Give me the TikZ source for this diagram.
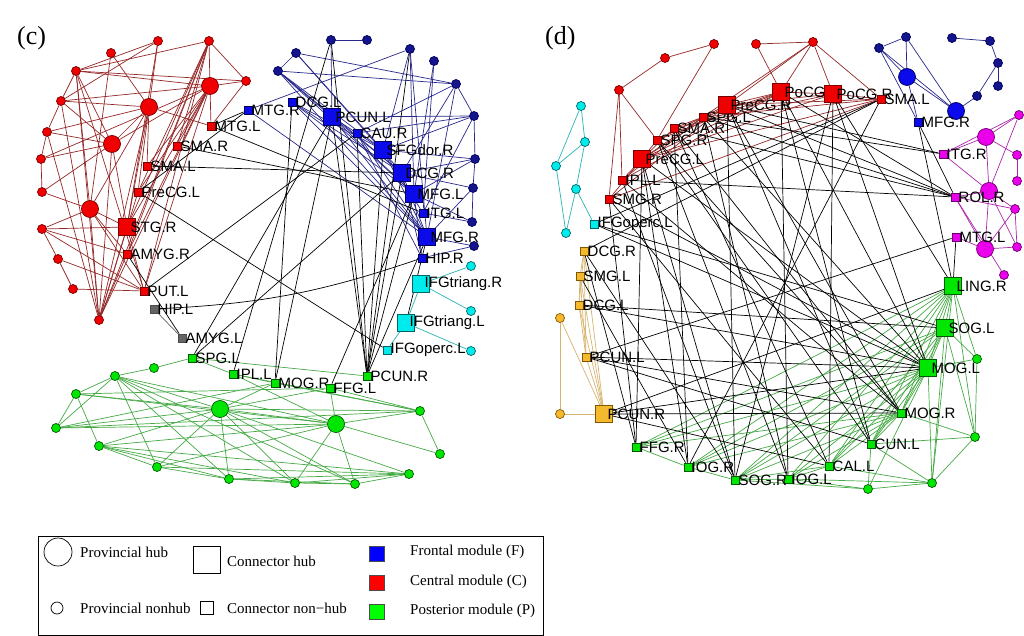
\documentclass[tikz,border=0pt]{standalone}
\usepackage{fontspec}
\setmainfont{Liberation Serif}
\newfontfamily\labfont{Liberation Sans}
\usetikzlibrary{backgrounds}
\definecolor{redN}{RGB}{240,0,0}
\definecolor{redB}{RGB}{120,0,0}
\definecolor{redE}{RGB}{150,40,40}
\definecolor{blueN}{RGB}{10,10,235}
\definecolor{navyN}{RGB}{20,20,140}
\definecolor{blueB}{RGB}{0,0,90}
\definecolor{blueE}{RGB}{40,40,140}
\definecolor{greenN}{RGB}{0,230,0}
\definecolor{greenB}{RGB}{0,90,0}
\definecolor{greenE}{RGB}{70,170,70}
\definecolor{cyanN}{RGB}{0,235,235}
\definecolor{cyanB}{RGB}{0,100,100}
\definecolor{cyanE}{RGB}{40,180,180}
\definecolor{orangeN}{RGB}{245,185,45}
\definecolor{orangeB}{RGB}{130,85,0}
\definecolor{orangeE}{RGB}{215,180,110}
\definecolor{magN}{RGB}{235,0,235}
\definecolor{magB}{RGB}{110,0,110}
\definecolor{magE}{RGB}{170,40,170}
\definecolor{grayN}{RGB}{100,100,100}
\newcommand\sqn[5]{\node[#1] (#2) at (#3,#4) {}; \node[lab] (#2t) at ([xshift=3.5pt]#2.center) {#5};}
\begin{document}
\begin{tikzpicture}[x=1pt,y=-1pt,
  nd/.style={inner sep=0pt,line width=0.7pt},
  rc/.style={nd,circle,minimum size=9pt,fill=redN,draw=redB},
  rh/.style={rc,minimum size=17pt},
  rs/.style={nd,rectangle,minimum size=8pt,fill=redN,draw=redB},
  rS/.style={rs,minimum size=17pt},
  bc/.style={nd,circle,minimum size=9pt,fill=navyN,draw=blueB},
  bh/.style={bc,minimum size=17pt,fill=blueN},
  bs/.style={nd,rectangle,minimum size=8pt,fill=blueN,draw=blueB},
  bS/.style={bs,minimum size=17pt},
  gc/.style={nd,circle,minimum size=9pt,fill=greenN,draw=greenB},
  gh/.style={gc,minimum size=17pt},
  gs/.style={nd,rectangle,minimum size=8pt,fill=greenN,draw=greenB},
  gS/.style={gs,minimum size=17pt},
  cc/.style={nd,circle,minimum size=9pt,fill=cyanN,draw=cyanB},
  cs/.style={nd,rectangle,minimum size=8pt,fill=cyanN,draw=cyanB},
  cS/.style={cs,minimum size=17pt},
  oc/.style={nd,circle,minimum size=9pt,fill=orangeN,draw=orangeB},
  os/.style={nd,rectangle,minimum size=8pt,fill=orangeN,draw=orangeB},
  oS/.style={os,minimum size=17pt},
  mc/.style={nd,circle,minimum size=9pt,fill=magN,draw=magB},
  mh/.style={mc,minimum size=17pt},
  ms/.style={nd,rectangle,minimum size=8pt,fill=magN,draw=magB},
  ks/.style={nd,rectangle,minimum size=8pt,fill=grayN,draw=black!70},
  lab/.style={anchor=west,inner sep=0pt,font=\labfont\fontsize{15}{17}\selectfont},
  ed/.style={line width=0.7pt},
  re/.style={ed,draw=redE}, be/.style={ed,draw=blueE}, ge/.style={ed,draw=greenE},
  ce/.style={ed,draw=cyanE}, oe/.style={ed,draw=orangeE}, me/.style={ed,draw=magE},
  ke/.style={ed,draw=black}, ye/.style={ed,draw=grayN},
  legt/.style={anchor=west,inner sep=0pt,font=\fontsize{15}{17}\selectfont}]
\useasboundingbox (0,0) rectangle (1024,636);
\node[anchor=west,inner sep=0pt,font=\fontsize{26}{28}\selectfont] (tc) at (17,38) {(c)};
\node[anchor=west,inner sep=0pt,font=\fontsize{26}{28}\selectfont] (td) at (545,38) {(d)};
% ---------------- panel c nodes
\foreach \n/\x/\y in {r1/158/41,r2/209/41,r3/111/53,r4/76/71,r5/246/81,r6/61/101,r7/47/132,r8/41/159,r9/42/192,r10/42/229,r11/58/259,r12/73/289,r13/99/320}
  \node[rc] (\n) at (\x,\y) {};
\foreach \n/\x/\y in {rh1/210/86,rh2/149/107,rh3/112/144,rh4/90/209}
  \node[rh] (\n) at (\x,\y) {};
\foreach \n/\x/\y in {b1/331/40,b2/367/40,b3/296/53,b4/410/49,b5/278/71,b6/434/61,b7/456/84,b8/474/116,b9/475/159,b10/473/188,b11/472/222,b12/474/246}
  \node[bc] (\n) at (\x,\y) {};
\foreach \n/\x/\y in {cy1/471/266,cy2/471/311,cy3/471/351}
  \node[cc] (\n) at (\x,\y) {};
\foreach \n/\x/\y in {gc1/154/368,gc2/115/376,gc3/76/394,gc4/56/428,gc5/99/446,gc6/157/467,gc7/229/479,gc8/295/483,gc9/355/484,gc10/409/474,gc11/440/454,gc12/420/411}
  \node[gc] (\n) at (\x,\y) {};
\node[gh] (gh1) at (220,409) {};
\node[gh] (gh2) at (336,424) {};
\sqn{rs}{rMTGL}{211}{126}{MTG.L}
\sqn{rs}{rSMAR}{177}{146}{SMA.R}
\sqn{rs}{rSMAL}{147}{166}{SMA.L}
\sqn{rs}{rPreCGL}{138}{192}{PreCG.L}
\sqn{rS}{rSTGR}{127}{227}{STG.R}
\sqn{rs}{rAMYGR}{127}{254}{AMYG.R}
\sqn{rs}{rPUTL}{144}{291}{PUT.L}
\sqn{ks}{gHIPL}{154}{309}{HIP.L}
\sqn{ks}{gAMYGL}{182}{338}{AMYG.L}
\sqn{bs}{bMTGR}{248}{110}{MTG.R}
\sqn{bs}{bDCGL}{292}{102}{DCG.L}
\sqn{bS}{bPCUNL}{332}{117}{PCUN.L}
\sqn{bs}{bCAUR}{357}{133}{CAU.R}
\sqn{bS}{bSFGdorR}{383}{150}{SFGdor.R}
\sqn{bS}{bDCGR}{402}{173}{DCG.R}
\sqn{bS}{bMFGL}{414}{194}{MFG.L}
\sqn{bs}{bITGL}{423}{213}{ITG.L}
\sqn{bS}{bMFGR}{427}{237}{MFG.R}
\sqn{bs}{bHIPR}{422}{258}{HIP.R}
\sqn{cS}{cIFGtR}{421}{284}{IFGtriang.R}
\sqn{cS}{cIFGtL}{406}{323}{IFGtriang.L}
\sqn{cs}{cIFGoL}{387}{350}{IFGoperc.L}
\sqn{gs}{gSPGL}{192}{358}{SPG.L}
\sqn{gs}{gIPLL}{233}{374}{IPL.L}
\sqn{gs}{gMOGR}{275}{383}{MOG.R}
\sqn{gs}{gFFGL}{330}{388}{FFG.L}
\sqn{gs}{gPCUNR}{367}{376}{PCUN.R}
% ---------------- panel d nodes
\foreach \n/\x/\y in {dr1/619/90,dr2/665/58,dr3/714/44,dr4/756/44,dr5/813/42}
  \node[rc] (\n) at (\x,\y) {};
\foreach \n/\x/\y in {dc1/581/106,dc2/585/142,dc3/556/166,dc4/576/189,dc5/566/233}
  \node[cc] (\n) at (\x,\y) {};
\foreach \n/\x/\y in {do1/560/318,do2/560/414}
  \node[oc] (\n) at (\x,\y) {};
\foreach \n/\x/\y in {db1/906/37,db2/879/48,db3/952/38,db4/990/41,db5/998/63,db6/998/86,db7/977/96}
  \node[bc] (\n) at (\x,\y) {};
\node[bh] (dbh1) at (907,77) {};
\node[bh] (dbh2) at (956,111) {};
\foreach \n/\x/\y in {dm1/1019/115,dm2/1017/155,dm3/1017/181,dm4/1015/209,dm5/1017/247,dm6/1004/275}
  \node[mc] (\n) at (\x,\y) {};
\foreach \n/\x/\y in {dmh1/986/137,dmh2/989/191,dmh3/985/249}
  \node[mh] (\n) at (\x,\y) {};
\foreach \n/\x/\y in {dg1/977/359,dg2/975/437,dg3/932/483,dg4/868/489}
  \node[gc] (\n) at (\x,\y) {};
\sqn{rS}{dPreCGL}{642}{159}{PreCG.L}
\sqn{rs}{dIPLL}{622}{180}{IPL.L}
\sqn{rs}{dSPGR}{657}{140}{SPG.R}
\sqn{rs}{dSMAR}{674}{128}{SMA.R}
\sqn{rs}{dSPGL}{703}{117}{SPG.L}
\sqn{rS}{dPreCGR}{727}{105}{PreCG.R}
\sqn{rS}{dPoCG}{781}{92}{PoCG}
\sqn{rS}{dPoCGR}{833}{94}{PoCG.R}
\sqn{rs}{dSMAL}{881}{99}{SMA.L}
\sqn{rs}{dSMGR}{609}{199}{SMG.R}
\sqn{cs}{dIFGoL}{594}{224}{IFGoperc.L}
\sqn{os}{dDCGR}{584}{251}{DCG.R}
\sqn{os}{dSMGL}{580}{276}{SMG.L}
\sqn{os}{dDCGL}{579}{305}{DCG.L}
\sqn{os}{dPCUNL}{586}{357}{PCUN.L}
\sqn{oS}{dPCUNR}{604}{414}{PCUN.R}
\sqn{bs}{dMFGR}{918}{122}{MFG.R}
\sqn{ms}{dITGR}{943}{154}{ITG.R}
\sqn{ms}{dROLR}{955}{197}{ROL.R}
\sqn{ms}{dMTGL}{956}{237}{MTG.L}
\sqn{gS}{dLINGR}{953}{286}{LING.R}
\sqn{gS}{dSOGL}{945}{328}{SOG.L}
\sqn{gS}{dMOGL}{928}{368}{MOG.L}
\sqn{gs}{dMOGR}{901}{413}{MOG.R}
\sqn{gs}{dCUNL}{871}{444}{CUN.L}
\sqn{gs}{dCALL}{829}{466}{CAL.L}
\sqn{gs}{dIOGL}{788}{479}{IOG.L}
\sqn{gs}{dFFGR}{636}{447}{FFG.R}
\sqn{gs}{dIOGR}{688}{467}{IOG.R}
\sqn{gs}{dSOGR}{735}{480}{SOG.R}
% ---------------- edges
\begin{scope}[on background layer]
\fill[white] (0,0) rectangle (1024,636);
\foreach \a/\b in {r1/rh2,r1/r6,r1/r4,r2/rh1,r2/r5,r2/r4,r2/rSMAR,r2/rPreCGL,r2/rSTGR,r2/rPUTL,r2/rAMYGR,r3/rh2,r3/rh4,r4/r6,r4/rh1,r4/r5,r4/rh3,r4/r13,r4/rPUTL,r5/rh1,r5/rMTGL,r6/r7,r6/rh2,r6/rh1,r6/r13,r6/rh3,r7/r8,r7/rh2,r7/rh3,r7/r13,r8/r9,r8/rh3,r8/rh1,r9/rh4,r9/rh3,r10/rh4,r10/r11,r10/rSTGR,r10/rAMYGR,r10/rPUTL,r11/r12,r11/rPUTL,r12/rPUTL,r13/rh3,r13/rh2,r13/rh1,r13/r2,r13/rSTGR,r13/rAMYGR,r13/rPreCGL,rh1/rMTGL,rh1/rSMAR,rh1/rSMAL,rh1/rPreCGL,rh1/rSTGR,rh1/rAMYGR,rh1/rPUTL,rh2/rSTGR,rh2/rPreCGL,rh2/rSMAL,rh2/rMTGL,rh2/rh3,rh3/rh1,rh3/rSTGR,rh4/rh2,rh4/r4,rh4/rSTGR,rh4/rAMYGR,rh4/rPUTL,rh4/r13,rSTGR/rPUTL,r1/rSTGR}
  \draw[re] (\a) -- (\b);
\foreach \a/\b in {b1/b2,b1/bPCUNL,b3/b5,b3/b7,b3/bDCGR,b3/bSFGdorR,b5/b7,b5/bPCUNL,b5/bSFGdorR,b5/bDCGR,b5/bMFGL,b5/bMFGR,bMTGR/b4,b4/bSFGdorR,b4/bMFGL,b4/bMFGR,b6/bMFGL,b6/bITGL,b7/bCAUR,b7/bDCGR,b7/bMFGR,b7/b8,b8/b9,b8/bCAUR,b8/bSFGdorR,b8/bPCUNL,b9/bSFGdorR,b9/b10,b9/bMFGL,b10/bDCGR,b10/bMFGR,b10/b11,b11/bITGL,b11/bMFGL,b12/bHIPR,b12/bMFGR,bPCUNL/bSFGdorR,bPCUNL/bDCGR,bPCUNL/bMFGL,bPCUNL/bMFGR,bDCGL/bMFGL,bDCGL/bMFGR,bDCGL/bDCGR,bDCGL/bSFGdorR,bMTGR/bMFGR,bCAUR/bMFGR,bSFGdorR/bMFGR,bSFGdorR/bITGL,bDCGR/bHIPR,bMFGL/bHIPR,bDCGR/bMFGR,bCAUR/bHIPR,b9/bDCGR,b8/bITGL}
  \draw[be] (\a) -- (\b);
\foreach \a/\b in {cIFGtR/cy1,cIFGtR/cy2,cIFGtR/cIFGtL,cIFGtL/cy3,cIFGtL/cIFGoL}
  \draw[ce] (\a) -- (\b);
\foreach \a/\b in {gc1/gc2,gc1/gSPGL,gSPGL/gIPLL,gSPGL/gPCUNR,gIPLL/gh2,gIPLL/gMOGR,gIPLL/gc12,gc2/gc3,gc2/gc4,gc2/gh1,gc2/gh2,gc2/gc7,gc2/gc8,gc2/gc6,gc2/gc9,gc3/gc4,gc3/gFFGL,gc3/gh1,gc3/gh2,gc4/gh1,gc4/gh2,gc4/gMOGR,gc4/gc12,gc5/gc6,gc5/gc7,gc5/gc10,gc5/gh2,gc5/gc3,gc5/gc8,gc6/gc7,gc6/gc10,gc6/gh2,gc6/gh1,gc7/gh1,gc7/gc8,gc7/gc9,gc7/gc10,gc8/gh1,gc8/gc9,gc8/gc10,gh1/gc9,gh1/gh2,gh1/gc12,gh1/gMOGR,gh1/gFFGL,gh2/gFFGL,gh2/gc12,gh2/gc11,gh2/gc9,gc9/gc10,gc11/gc12,gFFGL/gc12,gMOGR/gc12,gh1/gc10,gh2/gc8,gc5/gh1}
  \draw[ge] (\a) -- (\b);
\draw[ye] (gHIPL) -- (gAMYGL);
\foreach \a/\b in {rPUTL/bCAUR,rPreCGL/cIFGoL,rPreCGL/bMTGR,rMTGL/bMTGR,rAMYGR/gAMYGL,gSPGL/bDCGR,gSPGL/bPCUNL,gIPLL/b1,gMOGR/bPCUNL,gFFGL/bMFGL,gPCUNR/bPCUNL,gPCUNR/bCAUR,gPCUNR/bSFGdorR,gPCUNR/bDCGR,gPCUNR/bMFGL,gPCUNR/bMFGR,gPCUNR/b1,gPCUNR/b4,rSMAR/bMFGL,rSMAL/bDCGR,rMTGL/bITGL,bMFGR/cIFGtL,bDCGL/gMOGR}
  \draw[ke] (\a) -- (\b);
\draw[ke] (gHIPL) to[bend right=8] (bHIPR);
% panel d edges
\foreach \a/\b in {dr1/dr2,dr2/dr3,dr3/dSPGR,dr1/dSPGR,dr1/dIPLL,dr1/dSMGR,dr4/dr5,dr4/dPoCG,dr5/dPoCG,dr5/dPoCGR,dr5/dSMAL,dr5/dPreCGR,dr5/dSPGL,dPreCGL/dSPGR,dPreCGL/dSMAR,dPreCGL/dSPGL,dPreCGL/dPreCGR,dPreCGL/dPoCG,dPreCGL/dPoCGR,dPreCGL/dSMAL,dSMAR/dPoCGR,dSMAR/dSPGL,dSPGR/dPreCGR,dSPGR/dPoCG,dSPGL/dPoCG,dSPGL/dSMAL,dPreCGR/dPoCG,dPreCGR/dPoCGR,dPoCG/dPoCGR,dPoCGR/dSMAL,dIPLL/dPreCGL,dSMGR/dPreCGL,dSMGR/dPreCGR,dIPLL/dSPGL,dIPLL/dPoCG,dSMGR/dSMAL,dPreCGR/dSMAL}
  \draw[re] (\a) -- (\b);
\foreach \a/\b in {dc1/dc2,dc1/dc3,dc2/dc3,dc2/dc4,dc4/dIFGoL,dc3/dc5,dc4/dc5}
  \draw[ce] (\a) -- (\b);
\foreach \a/\b in {do1/dPCUNR,do1/do2,do2/dPCUNR,dDCGR/dSMGL,dSMGL/dDCGL,dDCGL/dPCUNL,dDCGR/dPCUNR,dSMGL/dPCUNR,dDCGL/dPCUNR,dPCUNL/dPCUNR,dDCGR/dDCGL,dSMGL/dPCUNL,dDCGR/dPCUNL}
  \draw[oe] (\a) -- (\b);
\foreach \a/\b in {db1/db2,db1/dbh1,db2/dbh1,db2/dbh2,db2/dMFGR,db1/dbh2,dbh1/dbh2,dbh1/dMFGR,db3/db4,db4/db5,db5/db7,db5/db6,db7/dbh2}
  \draw[be] (\a) -- (\b);
\foreach \a/\b in {dm1/dmh1,dm1/dITGR,dm1/dmh2,dmh1/dITGR,dmh1/dm2,dmh1/dmh2,dm2/dm3,dmh2/dROLR,dmh2/dm4,dmh2/dmh3,dmh2/dm5,dm4/dm5,dm4/dmh3,dmh3/dMTGL,dmh3/dm5,dROLR/dm6,dROLR/dmh3,dITGR/dmh2,dm4/dROLR}
  \draw[me] (\a) -- (\b);
\foreach \a/\b in {dLINGR/dSOGL,dLINGR/dMOGL,dLINGR/dMOGR,dLINGR/dCUNL,dLINGR/dCALL,dLINGR/dIOGL,dLINGR/dSOGR,dLINGR/dIOGR,dLINGR/dFFGR,dLINGR/dg1,dLINGR/dg2,dLINGR/dg3,dSOGL/dMOGL,dSOGL/dMOGR,dSOGL/dg1,dSOGL/dg2,dSOGL/dCUNL,dSOGL/dIOGR,dSOGL/dSOGR,dSOGL/dFFGR,dSOGL/dCALL,dSOGL/dg3,dMOGL/dMOGR,dMOGL/dCUNL,dMOGL/dCALL,dMOGL/dIOGL,dMOGL/dSOGR,dMOGL/dIOGR,dMOGL/dFFGR,dMOGL/dg1,dMOGL/dg3,dMOGL/dg4,dMOGR/dCUNL,dMOGR/dCALL,dMOGR/dIOGL,dMOGR/dSOGR,dMOGR/dIOGR,dMOGR/dg2,dCUNL/dg3,dCUNL/dg2,dCUNL/dg4,dCALL/dIOGL,dCALL/dg3,dCALL/dSOGR,dIOGL/dSOGR,dIOGL/dg3,dIOGL/dg4,dSOGR/dIOGR,dSOGR/dg4,dIOGR/dFFGR,dg1/dg2,dg2/dg3,dg3/dg4,dFFGR/dMOGR}
  \draw[ge] (\a) -- (\b);
\foreach \a/\b in {dPreCGL/dMOGL,dPreCGL/dIOGR,dPreCGL/dSOGR,dPreCGL/dFFGR,dSPGR/dCUNL,dSPGR/dIOGL,dSPGR/dMOGR,dSMAR/dMOGR,dSMAR/dCALL,dSMAR/dIOGR,dSPGL/dROLR,dSPGL/dMOGL,dSPGL/dIOGL,dPreCGR/dROLR,dPreCGR/dMOGR,dPreCGR/dSOGR,dPreCGR/dCUNL,dPoCG/dROLR,dPoCG/dCUNL,dPoCG/dIOGL,dPoCG/dMOGL,dPoCGR/dMOGL,dPoCGR/dCALL,dPoCGR/dLINGR,dPoCGR/dSOGR,dSMAL/dIFGoL,dSMAL/dDCGR,dSMAL/dIOGR,dMFGR/dROLR,dMFGR/dLINGR,dMTGL/dLINGR,dMTGL/dPCUNL,dIPLL/dMOGR,dIPLL/dSOGR,dIPLL/dROLR,dSMGR/dCALL,dSMGR/dFFGR,dSMGR/dMOGL,dIFGoL/dMOGL,dIFGoL/dSOGL,dDCGL/dMOGL,dDCGL/dSOGL,dPCUNL/dMOGL,dPCUNL/dMOGR,dPCUNL/dCUNL,dPCUNR/dMOGL,dPCUNR/dMOGR,dPCUNR/dLINGR,dPCUNR/dCALL,dSMGL/dIOGR,dDCGR/dFFGR,dITGR/dSPGL,dITGR/dPreCGR,dROLR/dSMAR,dDCGR/dSOGR}
  \draw[ke] (\a) -- (\b);
\end{scope}
% ---------------- legend
\node[draw,line width=0.8pt,minimum width=505pt,minimum height=99pt,anchor=north west,inner sep=0pt] (legbox) at (38,535.5) {};
\node[circle,draw,line width=0.7pt,minimum size=28pt,inner sep=0pt] (lg1) at (58,552) {};
\node[legt] (lg1t) at (80,552) {Provincial hub};
\node[draw,line width=0.7pt,minimum size=27pt,inner sep=0pt] (lg2) at (207,560) {};
\node[legt] (lg2t) at (227,561) {Connector hub};
\node[circle,draw,line width=0.7pt,minimum size=12pt,inner sep=0pt] (lg3) at (57,608) {};
\node[legt] (lg3t) at (80,608) {Provincial nonhub};
\node[draw,line width=0.7pt,minimum size=13pt,inner sep=0pt] (lg4) at (207,608) {};
\node[legt] (lg4t) at (227,608) {Connector non−hub};
\node[draw=black!70,fill=blue,minimum size=15pt,inner sep=0pt] (lg5) at (377,554) {};
\node[legt] (lg5t) at (410,552) {Frontal module (F)};
\node[draw=black!70,fill=red,minimum size=15pt,inner sep=0pt] (lg6) at (377,583) {};
\node[legt] (lg6t) at (410,582) {Central module (C)};
\node[draw=black!70,fill=green,minimum size=15pt,inner sep=0pt] (lg7) at (377,612) {};
\node[legt] (lg7t) at (410,611) {Posterior module (P)};
\end{tikzpicture}
\end{document}
